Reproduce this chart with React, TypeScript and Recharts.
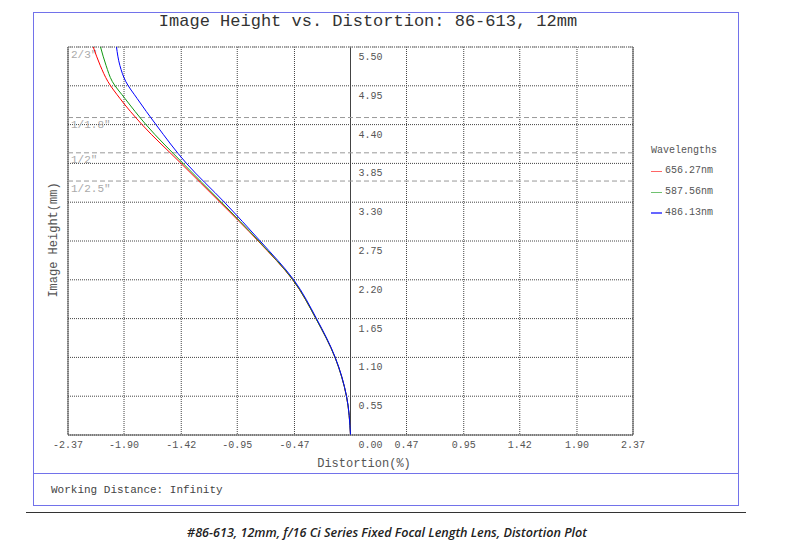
import React from "react";
import { LineChart, Line, XAxis, YAxis, CartesianGrid, ReferenceLine } from "recharts";

const MONO = '"Liberation Mono", "DejaVu Sans Mono", monospace';

// image height (mm) and distortion (%) per wavelength
const heights = [0, 0.55, 1.1, 1.65, 2.2, 2.75, 3.3, 3.85, 4.4, 4.77, 5.01, 5.24, 5.5];
const red = [0, -0.034, -0.13, -0.29, -0.485, -0.775, -1.095, -1.422, -1.749, -1.934, -2.035, -2.1, -2.158];
const green = [0, -0.034, -0.13, -0.29, -0.483, -0.77, -1.083, -1.405, -1.716, -1.892, -1.998, -2.051, -2.097];
const blue = [0, -0.033, -0.128, -0.285, -0.476, -0.758, -1.058, -1.376, -1.632, -1.79, -1.885, -1.935, -1.963];

const xTicks = [-2.37, -1.9, -1.42, -0.95, -0.47, 0, 0.47, 0.95, 1.42, 1.9, 2.37];
const yTicks = [0, 0.55, 1.1, 1.65, 2.2, 2.75, 3.3, 3.85, 4.4, 4.95, 5.5];

const sensors = [
  { name: '2/3"', h: 5.5 },
  { name: '1/1.8"', h: 4.5 },
  { name: '1/2"', h: 4.0 },
  { name: '1/2.5"', h: 3.6 },
];

const series = [
  { key: "red", name: "656.27nm", color: "#ff0000" },
  { key: "green", name: "587.56nm", color: "#119911" },
  { key: "blue", name: "486.13nm", color: "#0000ff" },
];

const data = heights.map((h, i) => ({ h, red: red[i], green: green[i], blue: blue[i] }));

const XTick = ({ x, y, payload }: any) => (
  <text
    x={x + (payload.value === 0 ? 20 : 0)}
    y={y}
    dy={4.5}
    textAnchor="middle"
    fontSize={10}
    fill="#555"
    fontFamily={MONO}
  >
    {payload.value.toFixed(2)}
  </text>
);

const YValueLabel = ({ viewBox, text }: any) => (
  <text x={viewBox.x + 8} y={viewBox.y + 13} fontSize={10} fill="#555" fontFamily={MONO}>
    {text}
  </text>
);

const SensorLabel = ({ viewBox, text }: any) => (
  <text x={viewBox.x + 3} y={viewBox.y + 10.5} fontSize={11} fill="#aaa" fontFamily={MONO}>
    {text}
  </text>
);

const abs = (s: React.CSSProperties): React.CSSProperties => ({ position: "absolute", ...s });

export default function App() {
  return (
    <div style={abs({ left: 0, top: 0, width: 803, height: 547, background: "#fff", fontFamily: MONO })}>
      {/* frames */}
      <div style={abs({ left: 33, top: 12, width: 706, height: 494, border: "1.5px solid #7272ea", boxSizing: "border-box" })} />
      <div style={abs({ left: 33, top: 473, width: 706, height: 0, borderTop: "1.5px solid #7272ea" })} />
      <div style={abs({ left: 26, top: 512, width: 720, height: 0, borderTop: "1.5px solid #333" })} />

      <div style={abs({ left: 0, top: 13, width: 736, height: 18, lineHeight: "18px", textAlign: "center", fontSize: 17, color: "#333" })}>
        Image Height vs. Distortion: 86-613, 12mm
      </div>

      <div style={abs({ left: -46, top: 233, width: 200, height: 14, lineHeight: "14px", textAlign: "center", fontSize: 12, color: "#555", transform: "rotate(-90deg)" })}>
        Image Height(mm)
      </div>

      <div style={abs({ left: 264, top: 457, width: 200, height: 14, lineHeight: "14px", textAlign: "center", fontSize: 12, color: "#555" })}>
        Distortion(%)
      </div>

      <div style={abs({ left: 51, top: 483, height: 14, lineHeight: "14px", fontSize: 11, color: "#444" })}>
        Working Distance: Infinity
      </div>

      <div style={abs({ left: 137, top: 525, width: 500, height: 16, lineHeight: "16px", textAlign: "center", fontSize: 12.6, fontStyle: "italic", fontWeight: 600, color: "#222", fontFamily: '"Open Sans", sans-serif' })}>
        #86-613, 12mm, f/16 Ci Series Fixed Focal Length Lens, Distortion Plot
      </div>

      {/* legend */}
      <div style={abs({ left: 651, top: 140, fontSize: 10, color: "#555" })}>
        <div style={{ height: 21.3, lineHeight: "21.3px" }}>Wavelengths</div>
        {series.map((s) => (
          <div key={s.key} style={{ height: 20.7, lineHeight: "20.7px", display: "flex", alignItems: "center" }}>
            <span style={{ display: "inline-block", width: 11, height: 1.5, background: s.color, opacity: 0.6, marginRight: 3 }} />
            {s.name}
          </div>
        ))}
      </div>

      <div style={abs({ left: 0, top: 0 })}>
        <LineChart
          width={803}
          height={547}
          layout="vertical"
          data={data}
          margin={{ top: 47, right: 170, bottom: 72, left: 28 }}
        >
          <CartesianGrid stroke="#444" strokeDasharray="1 1" horizontal={false} />
          <XAxis
            type="number"
            domain={[-2.37, 2.37]}
            ticks={xTicks}
            allowDataOverflow
            height={40}
            tick={<XTick />}
            tickLine={false}
            axisLine={{ stroke: "#555" }}
            interval={0}
          />
          <YAxis
            type="number"
            dataKey="h"
            domain={[0, 5.5]}
            ticks={yTicks}
            reversed
            allowDataOverflow
            width={40}
            tick={false}
            tickLine={false}
            axisLine={false}
          />
          {yTicks.map((v) => (
            <ReferenceLine key={`g${v}`} y={v} stroke="#444" strokeDasharray="1 1" />
          ))}
          <ReferenceLine x={-2.37} stroke="#555" />
          <ReferenceLine x={2.37} stroke="#555" />
          <ReferenceLine x={0} stroke="#444" />
          {sensors.map((s) => (
            <ReferenceLine
              key={s.name}
              y={s.h}
              stroke="#999"
              strokeDasharray="5 3"
              label={<SensorLabel text={s.name} />}
            />
          ))}
          {yTicks
            .filter((v) => v > 0)
            .map((v) => (
              <ReferenceLine
                key={v}
                segment={[{ x: 0, y: v }, { x: 2.37, y: v }]}
                stroke="none"
                label={<YValueLabel text={v.toFixed(2)} />}
              />
            ))}
          {series.map((s) => (
            <Line
              key={s.key}
              dataKey={s.key}
              name={s.name}
              type="monotone"
              stroke={s.color}
              strokeWidth={1}
              dot={false}
              isAnimationActive={false}
            />
          ))}
        </LineChart>
      </div>
    </div>
  );
}
